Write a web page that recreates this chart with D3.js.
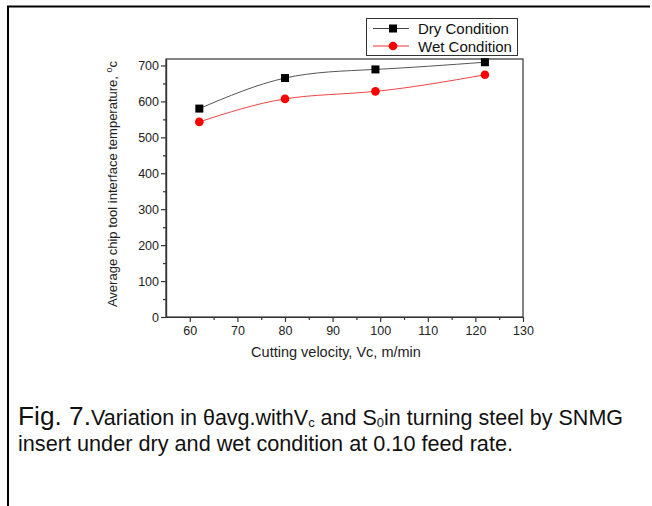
<!DOCTYPE html>
<html>
<head>
<meta charset="utf-8">
<script src="https://cdn.jsdelivr.net/npm/d3@7"></script>
<style>
  body { margin: 0; background: #fff; }
  svg { display: block; font-family: "Liberation Sans", Arial, sans-serif; }
  .cap { fill: #111; }
</style>
</head>
<body>
<svg id="chart" width="652" height="506"></svg>
<script>
// data
const velocity = [62, 80, 99, 122];
const dryTemp = [580, 665, 689, 709];
const wetTemp = [543, 607, 628, 674];
const xTicks = [60, 70, 80, 90, 100, 110, 120, 130];
const yTicks = [0, 100, 200, 300, 400, 500, 600, 700];

const svg = d3.select('#chart');

// page frame (top + left rule)
svg.append('path')
  .attr('d', 'M8,506 V6.5 H650')
  .attr('fill', 'none')
  .attr('stroke', '#000')
  .attr('stroke-width', 2);

const x = d3.scaleLinear().domain([55, 130]).range([166, 523]);
const y = d3.scaleLinear().domain([0, 718]).range([317, 59]);

const g = svg.append('g');

// plot box
g.append('rect')
  .attr('x', x(55)).attr('y', y(718))
  .attr('width', x(130) - x(55)).attr('height', y(0) - y(718))
  .attr('fill', 'none').attr('stroke', '#333').attr('stroke-width', 1.2);

// axes
const xAxis = d3.axisBottom(x).tickValues(xTicks).tickSize(5).tickSizeOuter(0).tickPadding(4);
const xMinor = d3.axisBottom(x).tickValues(d3.range(65, 130, 10)).tickSize(3).tickFormat('').tickSizeOuter(0);
const yAxis = d3.axisLeft(y).tickValues(yTicks).tickSize(5).tickSizeOuter(0).tickPadding(2);
const yMinor = d3.axisLeft(y).tickValues(d3.range(50, 720, 100)).tickSize(3).tickFormat('').tickSizeOuter(0);

[[xAxis, `translate(0,${y(0)})`], [xMinor, `translate(0,${y(0)})`],
 [yAxis, `translate(${x(55)},0)`], [yMinor, `translate(${x(55)},0)`]].forEach(([ax, tr]) => {
  const a = g.append('g').attr('transform', tr).call(ax);
  a.select('.domain').attr('stroke', '#333').attr('stroke-width', 1.2);
  a.selectAll('.tick line').attr('stroke', '#333').attr('stroke-width', 1.2);
  a.selectAll('.tick text').attr('font-size', 12.5).attr('fill', '#222')
    .attr('font-family', '"Liberation Sans", Arial, sans-serif');
});

// axis titles
g.append('text')
  .attr('x', 336).attr('y', 357)
  .attr('text-anchor', 'middle').attr('font-size', 14.5).attr('fill', '#222')
  .text('Cutting velocity, Vc, m/min');

const yt = g.append('text')
  .attr('transform', `translate(117,${(y(0) + y(718)) / 2 - 4}) rotate(-90)`)
  .attr('text-anchor', 'middle').attr('font-size', 13).attr('fill', '#222');
yt.append('tspan').text('Average chip tool interface temperature, ');
yt.append('tspan').attr('dy', -5).attr('font-size', 9).text('o');
yt.append('tspan').attr('dy', 5).text('c');

// series
const line = d3.line().x(d => x(d[0])).y(d => y(d[1])).curve(d3.curveNatural);
const dry = velocity.map((v, i) => [v, dryTemp[i]]);
const wet = velocity.map((v, i) => [v, wetTemp[i]]);

g.append('path').datum(dry).attr('d', line).attr('fill', 'none').attr('stroke', '#555').attr('stroke-width', 1);
g.append('path').datum(wet).attr('d', line).attr('fill', 'none').attr('stroke', '#e44').attr('stroke-width', 1);

g.selectAll('.sq').data(dry).join('rect')
  .attr('x', d => x(d[0]) - 4).attr('y', d => y(d[1]) - 4)
  .attr('width', 8).attr('height', 8).attr('fill', '#000');
g.selectAll('.ci').data(wet).join('circle')
  .attr('cx', d => x(d[0])).attr('cy', d => y(d[1])).attr('r', 4.3).attr('fill', '#f00');

// legend
const lg = svg.append('g');
lg.append('rect').attr('x', 366.5).attr('y', 18.5).attr('width', 151).attr('height', 37)
  .attr('fill', '#fff').attr('stroke', '#333').attr('stroke-width', 1);
const items = [['Dry Condition', '#444', 'sq'], ['Wet Condition', '#e33', 'ci']];
items.forEach(([label, col, m], i) => {
  const yy = 28.5 + i * 17.5;
  lg.append('line').attr('x1', 373).attr('x2', 409).attr('y1', yy).attr('y2', yy)
    .attr('stroke', col).attr('stroke-width', 1);
  if (m === 'sq') lg.append('rect').attr('x', 389).attr('y', yy - 4).attr('width', 8).attr('height', 8).attr('fill', '#000');
  else lg.append('circle').attr('cx', 393).attr('cy', yy).attr('r', 4.3).attr('fill', '#f00');
  lg.append('text').attr('x', 418).attr('y', yy + 5.5).attr('font-size', 15).attr('fill', '#111').text(label);
});

// caption
const c1 = svg.append('text').attr('class', 'cap').attr('x', 18).attr('y', 425);
c1.append('tspan').attr('font-size', 25).attr('textLength', 73).attr('lengthAdjust', 'spacingAndGlyphs').text('Fig. 7.');
const rest = c1.append('tspan').attr('font-size', 21.5);
rest.append('tspan').text('Variation in θavg.withV');
rest.append('tspan').attr('font-size', 13).attr('dy', 2).text('c');
rest.append('tspan').attr('dy', -2).text(' and S');
rest.append('tspan').attr('font-size', 13).attr('dy', 2).text('0');
rest.append('tspan').attr('dy', -2).text('in turning steel by SNMG');
svg.append('text').attr('class', 'cap').attr('x', 18).attr('y', 451).attr('font-size', 21.7)
  .attr('textLength', 495).attr('lengthAdjust', 'spacingAndGlyphs')
  .text('insert under dry and wet condition at 0.10 feed rate.');
</script>
</body>
</html>
